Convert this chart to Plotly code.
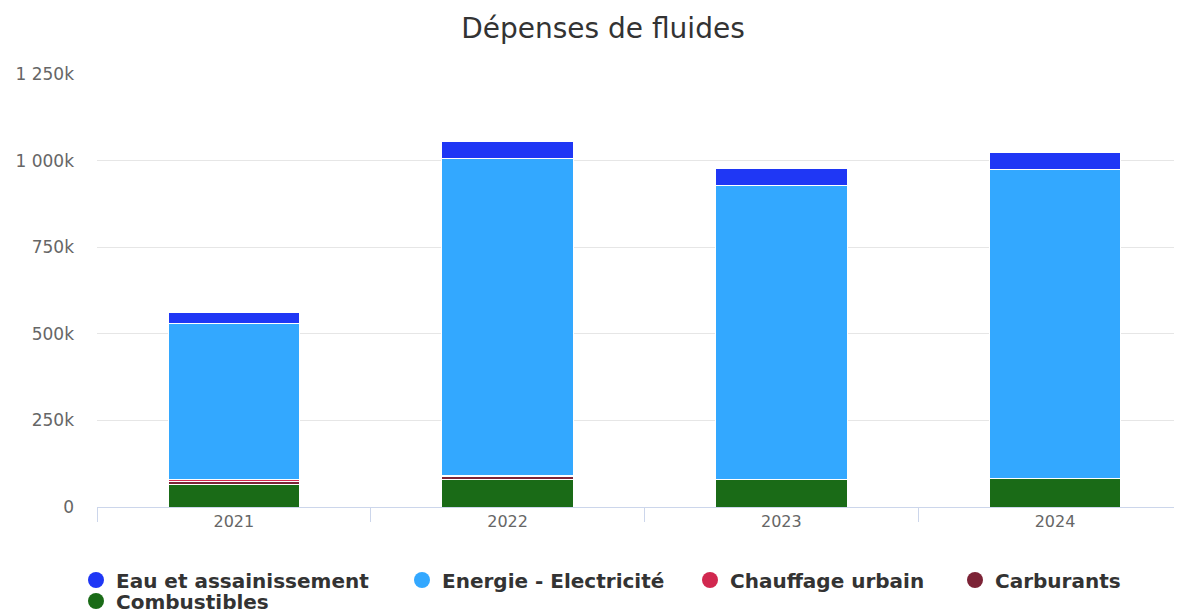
import plotly.graph_objects as go

annees = ["2021", "2022", "2023", "2024"]

# valeurs en euros
combustibles = [66000, 80000, 78000, 81000]
carburants = [8000, 7000, 0, 0]
chauffage_urbain = [5000, 4000, 0, 0]
energie_electricite = [450000, 915000, 849000, 892000]
eau_assainissement = [33000, 49000, 49000, 50000]

y_ticks = [0, 250000, 500000, 750000, 1000000, 1250000]
y_labels = ["0", "250k", "500k", "750k", "1 000k", "1 250k"]

# ordre de la pile (du bas vers le haut)
series = [
    ("Combustibles", combustibles, "#1a6b17"),
    ("Carburants", carburants, "#7c2336"),
    ("Chauffage urbain", chauffage_urbain, "#d1284f"),
    ("Energie - Electricité", energie_electricite, "#33a8ff"),
    ("Eau et assainissement", eau_assainissement, "#1f37f5"),
]

fig = go.Figure()

for nom, valeurs, couleur in series:
    fig.add_trace(go.Bar(
        x=annees, y=valeurs, name=nom,
        marker=dict(color=couleur, line=dict(color="white", width=1)),
        width=0.48, showlegend=False,
    ))

# la page décale la figure de 8 px (marge du body) : on compense
DEC = 8

# légende avec des pastilles rondes, placée à la main (un bloc par entrée)
legende_pos = {
    "Eau et assainissement": (76, 580),
    "Energie - Electricité": (402, 580),
    "Chauffage urbain": (690, 580),
    "Carburants": (955, 580),
    "Combustibles": (76, 601),
}
couleurs = {nom: c for nom, _, c in series}

legendes = {}
for i, nom in enumerate(legende_pos):
    cle = "legend" if i == 0 else f"legend{i + 1}"
    px, py = legende_pos[nom]
    fig.add_trace(go.Scatter(
        x=[None], y=[None], mode="markers", name=nom,
        marker=dict(symbol="circle", size=18, color=couleurs[nom]),
        legend=cle, showlegend=True,
    ))
    legendes[cle] = dict(
        xref="container", yref="container",
        x=(px - DEC) / 1182, xanchor="left",
        y=1 - (py - DEC) / 610, yanchor="middle",
        orientation="h", bgcolor="rgba(0,0,0,0)",
        font=dict(family="DejaVu Sans", size=20, color="#333333", weight="bold"),
        itemclick=False,
    )

fig.update_layout(
    barmode="stack",
    width=1182, height=610,
    margin=dict(l=97 - DEC, r=0, t=73.5 - DEC, b=103 + DEC, autoexpand=False),
    paper_bgcolor="white", plot_bgcolor="white",
    title=dict(
        text="Dépenses de fluides", x=(603 - DEC) / 1182, xanchor="center",
        y=1 - 20 / 610, yanchor="middle",
        font=dict(family="DejaVu Sans", size=28, color="#333333"),
    ),
    xaxis=dict(
        type="category", range=[-0.5, 3.493],
        showgrid=False, showline=True, linecolor="#ccd6eb", linewidth=1,
        ticks="outside", tickson="boundaries", ticklen=14, tickcolor="#ccd6eb",
        tickfont=dict(family="DejaVu Sans", size=16, color="#666666"),
    ),
    yaxis=dict(
        range=[0, 1250000], tickvals=y_ticks, ticktext=y_labels,
        showgrid=True, gridcolor="#e6e6e6", zeroline=False, showline=False,
        ticklabelstandoff=22,
        tickfont=dict(family="DejaVu Sans", size=17, color="#666666"),
    ),
    **legendes,
)

fig.write_html("out.html")
